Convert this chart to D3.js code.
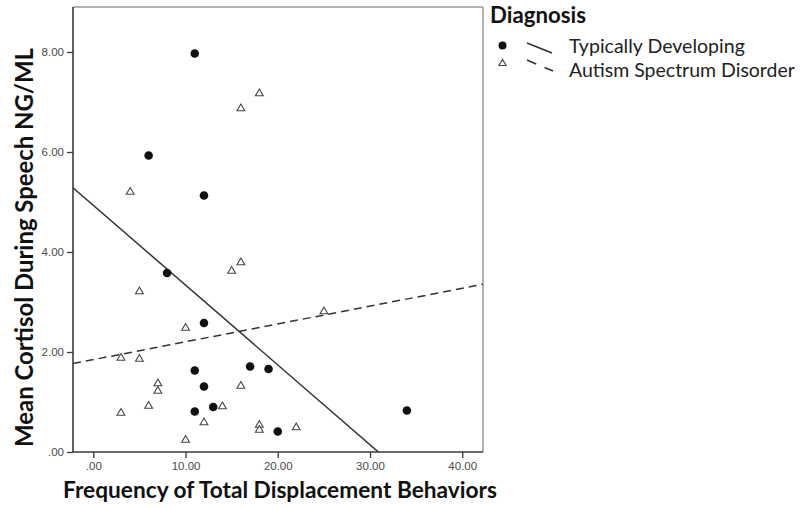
<!DOCTYPE html>
<html>
<head>
<meta charset="utf-8">
<script src="https://cdn.jsdelivr.net/npm/d3@7"></script>
<style>
  html, body { margin: 0; padding: 0; background: #fff; }
  svg { display: block; }
</style>
</head>
<body>
<svg id="chart" width="801" height="508"></svg>
<script>
// ---- Data ----
const seriesNames = ["Typically Developing", "Autism Spectrum Disorder"];
const tdX = [11, 6, 12, 8, 12, 11, 12, 11, 13, 17, 19, 20, 34];
const tdY = [7.97, 5.93, 5.13, 3.58, 2.58, 1.63, 1.31, 0.81, 0.90, 1.71, 1.66, 0.41, 0.83];
const asdX = [4, 18, 16, 15, 16, 5, 10, 3, 5, 7, 7, 6, 3, 16, 14, 12, 10, 18, 18, 22, 25];
const asdY = [5.20, 7.17, 6.87, 3.62, 3.79, 3.21, 2.48, 1.88, 1.86, 1.37, 1.22, 0.92, 0.78, 1.32, 0.91, 0.59, 0.24, 0.54, 0.44, 0.49, 2.81];
const xTicks = [0, 10, 20, 30, 40];
const yTicks = [0, 2, 4, 6, 8];
const xTitle = "Frequency of Total Displacement Behaviors";
const yTitle = "Mean Cortisol During Speech NG/ML";
const legendTitle = "Diagnosis";

// ---- Layout ----
const svg = d3.select("#chart");
const L = 73, R = 483, T = 7, B = 452;
const x = d3.scaleLinear().domain([-2.2, 42.25]).range([L, R]);
const y = d3.scaleLinear().domain([0, 8.9]).range([B, T]);
const fmt = v => d3.format(".2f")(v).replace(/^0\./, ".");
const titleFont = "Lato, 'Open Sans', sans-serif";
const tickFont = "'Liberation Sans Narrow', 'Arial Narrow', 'Liberation Sans', Arial, sans-serif";

function fitWidth(sel, w) {
  const cur = sel.node().getComputedTextLength();
  const fs = parseFloat(sel.attr("font-size"));
  sel.attr("font-size", (fs * w / cur).toFixed(2));
}

// frame top/right
svg.append("line").attr("x1", L).attr("x2", R).attr("y1", T).attr("y2", T)
  .attr("stroke", "#9a9a9a").attr("stroke-width", 1.5);
svg.append("line").attr("x1", R).attr("x2", R).attr("y1", T).attr("y2", B)
  .attr("stroke", "#9a9a9a").attr("stroke-width", 1.5);

// axes
const xAxis = d3.axisBottom(x).tickValues(xTicks).tickFormat(fmt).tickSize(6).tickPadding(4).tickSizeOuter(0);
const yAxis = d3.axisLeft(y).tickValues(yTicks).tickFormat(fmt).tickSize(6).tickPadding(3).tickSizeOuter(0);
const gx = svg.append("g").attr("transform", `translate(0,${B})`).call(xAxis);
const gy = svg.append("g").attr("transform", `translate(${L},0)`).call(yAxis);
[gx, gy].forEach(g => {
  g.select(".domain").attr("stroke", "#3a3a3a").attr("stroke-width", 1.6);
  g.selectAll(".tick line").attr("stroke", "#3a3a3a").attr("stroke-width", 1.3);
  g.selectAll(".tick text").attr("fill", "#4a4a4a").attr("font-family", tickFont).attr("font-size", 11.5);
});
gx.select(".domain").attr("d", `M${L},0H${R}`);
gy.select(".domain").attr("d", `M0,${T}V${B}`);

// clip
svg.append("clipPath").attr("id", "plotclip").append("rect")
  .attr("x", L).attr("y", T).attr("width", R - L).attr("height", B - T);

// regression lines (OLS)
function ols(xs, ys) {
  const mx = d3.mean(xs), my = d3.mean(ys);
  let sxy = 0, sxx = 0;
  xs.forEach((v, i) => { sxy += (v - mx) * (ys[i] - my); sxx += (v - mx) * (v - mx); });
  const b = sxy / sxx;
  return { a: my - b * mx, b };
}
const fits = [ols(tdX, tdY), ols(asdX, asdY)];
const dom = x.domain();
const lineGen = d3.line().x(d => x(d[0])).y(d => y(d[1]));
const gl = svg.append("g").attr("clip-path", "url(#plotclip)");
fits.forEach((f, i) => {
  gl.append("path")
    .attr("d", lineGen([[dom[0], f.a + f.b * dom[0]], [dom[1], f.a + f.b * dom[1]]]))
    .attr("fill", "none").attr("stroke", "#333").attr("stroke-width", 1.5)
    .attr("stroke-dasharray", i === 1 ? "8,5" : null);
});

// points
const tdPts = tdX.map((v, i) => [v, tdY[i]]);
const asdPts = asdX.map((v, i) => [v, asdY[i]]);
svg.append("g").selectAll("circle").data(tdPts).join("circle")
  .attr("cx", d => x(d[0])).attr("cy", d => y(d[1])).attr("r", 4.3).attr("fill", "#111");
const tri = d3.symbol().type(d3.symbolTriangle).size(26);
svg.append("g").selectAll("path").data(asdPts).join("path")
  .attr("d", tri).attr("transform", d => `translate(${x(d[0])},${y(d[1])})`)
  .attr("fill", "#fff").attr("stroke", "#444").attr("stroke-width", 1.1);

// axis titles
const xt = svg.append("text").attr("x", 280).attr("y", 498).attr("text-anchor", "middle")
  .attr("font-family", titleFont).attr("font-weight", "bold").attr("font-size", 20)
  .attr("fill", "#111").text(xTitle);
fitWidth(xt, 434);
const yt = svg.append("text").attr("transform", "translate(33,247.5) rotate(-90)").attr("text-anchor", "middle")
  .attr("font-family", titleFont).attr("font-weight", "bold").attr("font-size", 20)
  .attr("fill", "#111").text(yTitle);
fitWidth(yt, 399);

// legend
const lt = svg.append("text").attr("x", 490).attr("y", 23)
  .attr("font-family", titleFont).attr("font-weight", "bold").attr("font-size", 20)
  .attr("fill", "#111").text(legendTitle);
fitWidth(lt, 96);

const leg = svg.append("g");
leg.append("circle").attr("cx", 502.5).attr("cy", 45.5).attr("r", 4).attr("fill", "#111");
leg.append("line").attr("x1", 527).attr("y1", 43).attr("x2", 552).attr("y2", 53)
  .attr("stroke", "#333").attr("stroke-width", 1.6);
leg.append("path").attr("d", d3.symbol().type(d3.symbolTriangle).size(22))
  .attr("transform", "translate(502.5,63.5)").attr("fill", "#fff").attr("stroke", "#444").attr("stroke-width", 1.1);
leg.append("line").attr("x1", 527).attr("y1", 60).attr("x2", 553).attr("y2", 71)
  .attr("stroke", "#333").attr("stroke-width", 1.6).attr("stroke-dasharray", "10,9");
const l1 = leg.append("text").attr("x", 569).attr("y", 53).attr("font-family", titleFont)
  .attr("font-size", 18).attr("fill", "#222").text(seriesNames[0]);
fitWidth(l1, 176);
const l2 = leg.append("text").attr("x", 569).attr("y", 77).attr("font-family", titleFont)
  .attr("font-size", 18).attr("fill", "#222").text(seriesNames[1]);
fitWidth(l2, 226);
</script>
</body>
</html>
